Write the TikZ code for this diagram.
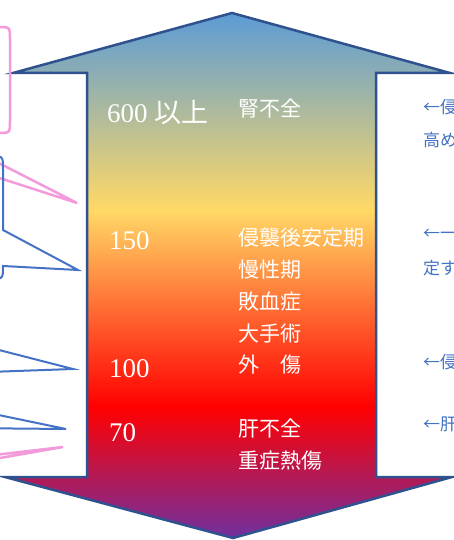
\documentclass[tikz,border=0pt]{standalone}
\usepackage{fontspec}
\setmainfont{Liberation Serif}
\newfontfamily\jp{Noto Sans CJK JP}
\definecolor{cblue}{RGB}{91,155,213}
\definecolor{cyellow}{RGB}{255,217,102}
\definecolor{cred}{RGB}{255,0,0}
\definecolor{cpurple}{RGB}{112,48,160}
\definecolor{outline}{RGB}{47,82,143}
\definecolor{callblue}{RGB}{68,114,196}
\definecolor{callpink}{RGB}{243,155,218}
\pgfdeclareverticalshading{arrowgrad}{100bp}{color(0bp)=(cpurple); color(25bp)=(cpurple); color(37.48bp)=(cred); color(56.24bp)=(cyellow); color(75bp)=(cblue); color(100bp)=(cblue)}
\tikzset{
  numtxt/.style={anchor=west, inner sep=0pt, text=white, font=\fontsize{27}{30}\selectfont},
  jptxt/.style={anchor=west, inner sep=0pt, text=white, font=\jp\fontsize{21}{24}\selectfont},
  sidetxt/.style={anchor=west, inner sep=0pt, text=callblue, font=\jp\fontsize{17}{20}\selectfont},
  pinkline/.style={draw=callpink, line width=2.5pt, line join=miter},
  blueline/.style={draw=callblue, line width=2pt, line join=miter},
}
\begin{document}
\begin{tikzpicture}[x=1pt,y=-1pt]
\useasboundingbox (0,0) rectangle (454,540);
\clip (0,0) rectangle (454,540);
\fill[white] (0,0) rectangle (454,540);
% double arrow
\path[shading=arrowgrad, draw=outline, line width=2.5pt, line join=miter]
  (232,13) -- (450,73) -- (376,73) -- (376,477) -- (452,477) -- (233,538)
  -- (5,477) -- (87,477) -- (87,73) -- (13,73) -- cycle;
% pink callouts (mostly off the picture)
\draw[pinkline] (-200,27) -- (-2,27) .. controls (10,27) .. (10,39)
  -- (10,121) .. controls (10,133) .. (-2,133) -- (-60,133) -- (77,203) -- (-140,133) -- (-200,133);
\draw[pinkline] (-40,459) -- (63,447) -- (-40,465);
% blue callouts
\draw[blueline] (-200,156) -- (-10,156) .. controls (3,156) .. (3,169)
  -- (3,230) -- (78,270) -- (3,266) .. controls (3,279) .. (-10,279) -- (-200,279);
\draw[blueline] (-40,340) -- (73,369) -- (-40,373);
\draw[blueline] (-40,407) -- (66,429) -- (-40,428);
% values
\node[numtxt] (v600) at (107,112) {600 {\jp 以上}};
\node[numtxt] (v150) at (109,241) {150};
\node[numtxt] (v100) at (109,369) {100};
\node[numtxt] (v70) at (109,433) {70};
% conditions
\node[jptxt] (c1) at (238,109) {腎不全};
\node[jptxt] (c2) at (238,238) {侵襲後安定期};
\node[jptxt] (c3) at (238,270) {慢性期};
\node[jptxt] (c4) at (238,302) {敗血症};
\node[jptxt] (c5) at (238,334) {大手術};
\node[jptxt] (c6) at (238,365) {外　傷};
\node[jptxt] (c7) at (238,429) {肝不全};
\node[jptxt] (c8) at (238,461) {重症熱傷};
% side notes (cut at the right edge)
\node[sidetxt] (s1) at (423,107) {←侵};
\node[sidetxt] (s2) at (423,140) {高め};
\node[sidetxt] (s3) at (423,234) {←一};
\node[sidetxt] (s4) at (423,268) {定す};
\node[sidetxt] (s5) at (423,362) {←侵};
\node[sidetxt] (s6) at (423,424) {←肝};
\end{tikzpicture}
\end{document}
